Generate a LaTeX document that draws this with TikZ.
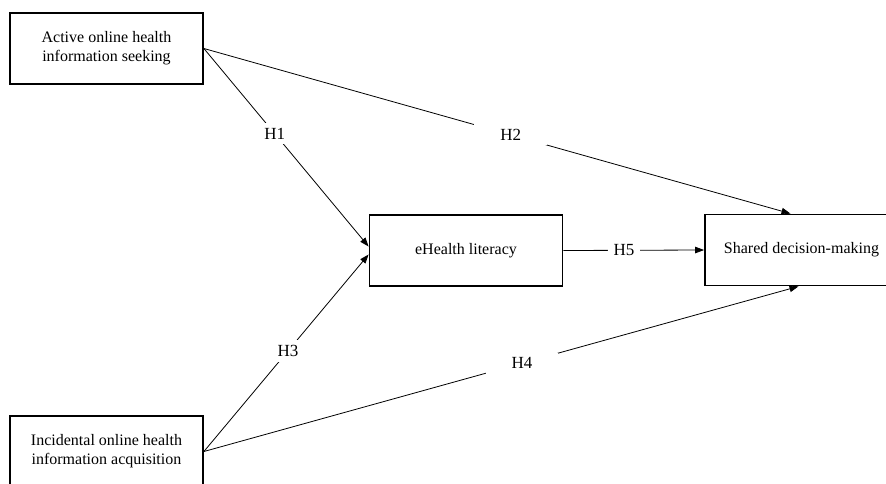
\documentclass[tikz,border=0pt]{standalone}
\usepackage{fontspec}
\setmainfont{Liberation Serif}
\usetikzlibrary{arrows.meta,calc}
\begin{document}
\begin{tikzpicture}[x=1pt,y=-1pt,
  box/.style={draw,line width=1.8pt,minimum width=193pt,minimum height=71pt,align=center,inner sep=0pt,font=\fontsize{16}{19}\selectfont},
  link/.style={line width=0.8pt,-{Triangle[length=9pt,width=6.5pt]}},
  hlab/.style={fill=white,inner xsep=6pt,inner ysep=5pt,font=\fontsize{17}{19}\selectfont},
  hwide/.style={hlab,inner xsep=26pt}]
\useasboundingbox (0,0) rectangle (886,483);
\clip (0,0) rectangle (886,483);
\fill[white] (0,0) rectangle (886,483);
\node[box] (A) at (106.5,48.5) {Active online health\\information seeking};
\node[box] (I) at (106.5,451.5) {Incidental online health\\information acquisition};
\node[box] (E) at (466,250.5) {eHealth literacy};
\node[box] (S) at (801.5,250) {Shared decision-making};
\coordinate (Ein1) at ($(E.west)+(0,-4)$);
\coordinate (Ein2) at ($(E.west)+(0,4)$);
\coordinate (Sin1) at ($(S.north)+(-11,0)$);
\coordinate (Sin2) at ($(S.south)+(-3,0)$);
\draw[link] (A.east) -- node[hlab,pos=0.43] {H1} (Ein1);
\draw[link] (A.east) -- node[hwide,pos=0.523] {H2} (Sin1);
\draw[link] (I.east) -- node[hlab,pos=0.51] {H3} (Ein2);
\draw[link] (I.east) -- node[hwide,pos=0.535] {H4} (Sin2);
\draw[link] (E.east) -- node[hlab,pos=0.43] {H5} (S.west);
\end{tikzpicture}
\end{document}
